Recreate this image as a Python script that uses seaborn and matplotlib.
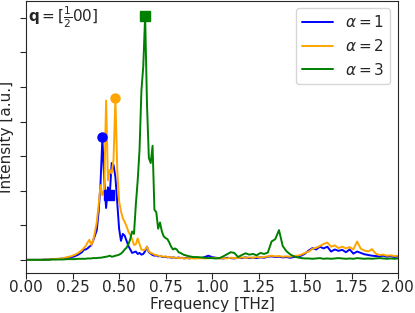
import numpy as np
import pandas as pd
import matplotlib
matplotlib.use('Agg')
import matplotlib.pyplot as plt
import seaborn as sns

# frequency grid [THz]: coarse at the ends, fine around the peaks
freq_low = [0.00, 0.02, 0.04, 0.06, 0.08, 0.10, 0.12, 0.14, 0.16, 0.18, 0.20, 0.22, 0.24, 0.26, 0.28]
freq_mid = [round(0.30 + 0.01 * i, 2) for i in range(61)]
freq_high = [round(0.92 + 0.02 * i, 2) for i in range(55)]
freq = freq_low + freq_mid + freq_high

alpha1 = [0, 0, 0, 0, 0, 0.01, 0.01, 0.02, 0.02, 0.03, 0.04, 0.05, 0.07, 0.10, 0.15,
          0.22, 0.29, 0.30, 0.33, 0.38, 0.42, 0.55, 0.70, 0.86, 1.40,
          2.20, 3.54, 2.30, 1.50, 2.10, 1.90, 2.80, 2.75, 2.40, 1.65,
          0.90, 0.55, 0.75, 0.70, 0.55, 0.40, 0.30, 0.20, 0.22, 0.24,
          0.17, 0.20, 0.15, 0.17, 0.25, 0.38, 0.22, 0.18, 0.14, 0.12,
          0.13, 0.10, 0.11, 0.09, 0.08, 0.09, 0.07, 0.08, 0.06, 0.07,
          0.06, 0.05, 0.07, 0.05, 0.06, 0.04, 0.06, 0.05, 0.04, 0.06, 0.05,
          0.06, 0.05, 0.08, 0.12, 0.08, 0.06, 0.05, 0.04, 0.06, 0.05,
          0.04, 0.06, 0.05, 0.07, 0.05, 0.06, 0.05, 0.07, 0.06, 0.09,
          0.10, 0.08, 0.09, 0.07, 0.08, 0.06, 0.08, 0.10, 0.12, 0.18,
          0.27, 0.34, 0.30, 0.38, 0.33, 0.38, 0.24, 0.30, 0.26, 0.29,
          0.22, 0.30, 0.18, 0.24, 0.20, 0.16, 0.14, 0.12, 0.11, 0.10,
          0.12, 0.09, 0.11, 0.08, 0.10]

alpha2 = [0, 0, 0, 0, 0, 0.01, 0.01, 0.02, 0.03, 0.03, 0.05, 0.08, 0.10, 0.14, 0.20,
          0.28, 0.34, 0.40, 0.50, 0.58, 0.43, 0.55, 0.80, 1.10, 1.60,
          2.16, 1.87, 2.00, 4.61, 2.30, 2.60, 2.50, 2.90, 4.67, 2.60,
          1.70, 1.40, 1.20, 1.10, 0.97, 0.82, 0.72, 0.60, 0.43, 0.45,
          0.62, 0.45, 0.30, 0.28, 0.30, 0.38, 0.24, 0.20, 0.18, 0.15,
          0.14, 0.12, 0.11, 0.10, 0.09, 0.10, 0.08, 0.08, 0.07, 0.07,
          0.06, 0.06, 0.05, 0.06, 0.05, 0.05, 0.04, 0.05, 0.04, 0.05, 0.04,
          0.04, 0.05, 0.04, 0.05, 0.06, 0.05, 0.04, 0.05, 0.04, 0.06,
          0.05, 0.05, 0.07, 0.06, 0.07, 0.06, 0.08, 0.07, 0.08, 0.10,
          0.12, 0.10, 0.11, 0.09, 0.10, 0.09, 0.11, 0.12, 0.15, 0.20,
          0.24, 0.32, 0.35, 0.40, 0.46, 0.50, 0.38, 0.42, 0.34, 0.38,
          0.33, 0.37, 0.30, 0.53, 0.32, 0.27, 0.24, 0.31, 0.18, 0.14,
          0.15, 0.12, 0.13, 0.11, 0.12]

alpha3 = [0, 0, 0, 0, 0, 0, 0, 0.01, 0.01, 0.01, 0.01, 0.02, 0.02, 0.02, 0.03,
          0.03, 0.03, 0.03, 0.04, 0.04, 0.04, 0.05, 0.05, 0.05, 0.06,
          0.06, 0.07, 0.08, 0.09, 0.10, 0.12, 0.09, 0.10, 0.12, 0.13,
          0.15, 0.18, 0.23, 0.30, 0.35, 0.45, 0.60, 0.82, 0.75, 1.60,
          2.30, 3.20, 4.90, 5.60, 7.06, 4.50, 2.95, 2.80, 3.30, 1.45,
          1.38, 0.90, 1.08, 0.82, 0.68, 0.63, 0.60, 0.50, 0.38, 0.30,
          0.33, 0.30, 0.22, 0.20, 0.17, 0.14, 0.13, 0.11, 0.10, 0.09, 0.08,
          0.08, 0.07, 0.06, 0.05, 0.05, 0.04, 0.05, 0.10, 0.16, 0.22,
          0.20, 0.08, 0.14, 0.19, 0.15, 0.17, 0.13, 0.20, 0.17, 0.21,
          0.53, 0.60, 0.86, 0.40, 0.25, 0.16, 0.10, 0.07, 0.05, 0.04,
          0.04, 0.03, 0.04, 0.05, 0.03, 0.04, 0.03, 0.04, 0.05, 0.04,
          0.03, 0.04, 0.03, 0.05, 0.04, 0.03, 0.04, 0.03, 0.04, 0.05,
          0.04, 0.03, 0.04, 0.03, 0.04]

labels = [r'$\alpha=1$', r'$\alpha=2$', r'$\alpha=3$']
colors = ['blue', 'orange', 'green']

# marked peaks
circle_freq = [0.407, 0.478]
circle_val = [3.54, 4.67]
circle_color = ['blue', 'orange']
square_freq = [0.446, 0.64]
square_val = [1.89, 7.06]
square_color = ['blue', 'green']

df = pd.concat([
    pd.DataFrame({'freq': freq, 'intensity': vals, 'label': lab})
    for vals, lab in zip([alpha1, alpha2, alpha3], labels)
])

sns.set_style('ticks')
plt.rcParams['font.family'] = ['DejaVu Sans']

fig = plt.figure(figsize=(4.15, 3.13), dpi=100)
ax = fig.add_axes([0.063, 0.129, 0.896, 0.869])

sns.lineplot(data=df, x='freq', y='intensity', hue='label',
             palette=dict(zip(labels, colors)), estimator=None,
             linewidth=1.4, ax=ax)

for f, v, c in zip(circle_freq, circle_val, circle_color):
    ax.plot([f], [v], 'o', color=c, markersize=6.5)
for f, v, c in zip(square_freq, square_val, square_color):
    ax.plot([f], [v], 's', color=c, markersize=6.5)

ax.set_xlim(0, 2)
ax.set_ylim(-0.37, 7.5)
ax.set_xticks([0, 0.25, 0.5, 0.75, 1.0, 1.25, 1.5, 1.75, 2.0])
ax.set_xticklabels(['0.00', '0.25', '0.50', '0.75', '1.00', '1.25', '1.50', '1.75', '2.00'])
ax.set_yticks(range(8))
ax.set_yticklabels([])
ax.tick_params(labelsize=11, length=4, pad=1.5)
ax.set_xlabel('Frequency [THz]', fontsize=11, labelpad=1)
ax.set_ylabel('Intensity [a.u.]', fontsize=11, labelpad=3.5)

ax.text(0.006, 0.985, r'$\mathbf{q}=[\frac{1}{2}00]$', transform=ax.transAxes,
        ha='left', va='top', fontsize=11)

ax.legend(loc='upper right', fontsize=11, title=None, borderaxespad=0.5)

fig.savefig('out.png', dpi=100)
